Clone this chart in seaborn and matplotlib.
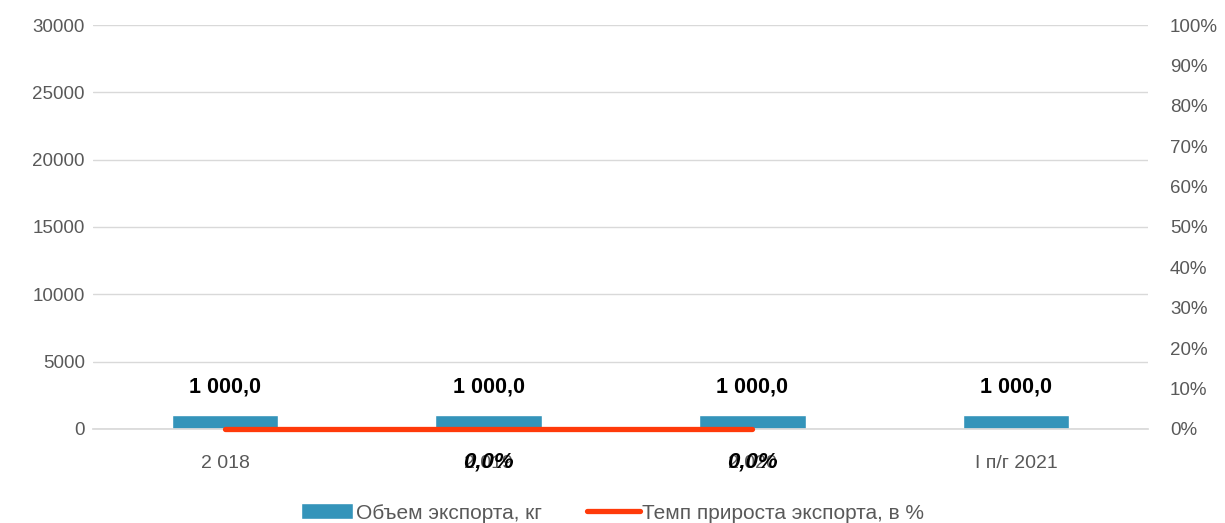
import numpy as np
import seaborn as sns
import matplotlib.pyplot as plt


categories = ["2 018", "2 019", "2 020", "I п/г 2021"]
volume = [1000.0, 1000.0, 1000.0, 1000.0]
volume_labels = ["1 000,0", "1 000,0", "1 000,0", "1 000,0"]
growth = [0.0, 0.0, 0.0]
growth_labels = ["", "0,0%", "0,0%"]

BAR_LABEL = "Объем экспорта, кг"
LINE_LABEL = "Темп прироста экспорта, в %"

BAR_COLOR = "#3494BA"
LINE_COLOR = "#FF3A0A"
TEXT_COLOR = "#595959"


def main():
    sns.set_theme(style="white")
    plt.rcParams["font.family"] = ["Liberation Sans", "DejaVu Sans"]

    fig, ax1 = plt.subplots(figsize=(12.25, 5.23), dpi=100)
    fig.subplots_adjust(left=0.076, right=0.937, top=0.952, bottom=0.18)
    ax2 = ax1.twinx()

    sns.barplot(x=categories, y=volume, color=BAR_COLOR, saturation=1,
                width=0.405, ax=ax1, label=BAR_LABEL, zorder=2)
    for i, txt in enumerate(volume_labels):
        ax1.annotate(txt, (i, volume[i]), xytext=(0, 13), textcoords="offset points",
                     ha="center", va="bottom", fontsize=15.5, fontweight="bold", color="black")

    ax1.set_ylim(0, 30000)
    ax1.set_yticks(np.arange(0, 30001, 5000))
    ax1.set_xlim(-0.5, len(categories) - 0.5)
    ax1.yaxis.grid(True, color="#D9D9D9", linewidth=1)
    ax1.set_axisbelow(True)
    ax1.tick_params(axis="x", length=0, labelsize=14, colors=TEXT_COLOR, pad=19)
    ax1.tick_params(axis="y", length=0, labelsize=13.5, colors=TEXT_COLOR, pad=6)

    # growth line sits on 0, so let it draw over the axis edge
    x_line = np.arange(len(growth))
    sns.lineplot(x=x_line, y=growth, color=LINE_COLOR, linewidth=3.8, ax=ax2,
                 label=LINE_LABEL, solid_capstyle="round", zorder=3, clip_on=False)
    for i, txt in enumerate(growth_labels):
        if txt:
            ax2.annotate(txt, (x_line[i], growth[i]), xytext=(0, -24), textcoords="offset points",
                         ha="center", va="center", fontsize=16, fontweight="bold",
                         fontstyle="italic", color="black")
    ax2.set_ylim(0, 1)
    ax2.set_yticks(np.arange(0, 1.01, 0.1))
    ax2.set_yticklabels([f"{int(round(v * 100))}%" for v in np.arange(0, 1.01, 0.1)])
    ax2.tick_params(axis="y", length=0, labelsize=13.5, colors=TEXT_COLOR, pad=16)
    ax2.set_ylabel("")
    ax1.set_ylabel("")

    for ax in (ax1, ax2):
        for side in ("top", "left", "right"):
            ax.spines[side].set_visible(False)
        ax.spines["bottom"].set_color("#D9D9D9")
    ax2.spines["bottom"].set_visible(False)

    h1, l1 = ax1.get_legend_handles_labels()
    h2, l2 = ax2.get_legend_handles_labels()
    if ax1.get_legend():
        ax1.get_legend().remove()
    if ax2.get_legend():
        ax2.get_legend().remove()
    fig.legend(h1 + h2, l1 + l2, loc="lower center", bbox_to_anchor=(0.5, -0.035), ncol=2,
               frameon=False, fontsize=15, labelcolor=TEXT_COLOR, columnspacing=2.2,
               handlelength=2.5, handleheight=0.8, handletextpad=0.1)

    fig.savefig("out.png", dpi=100)


main()
